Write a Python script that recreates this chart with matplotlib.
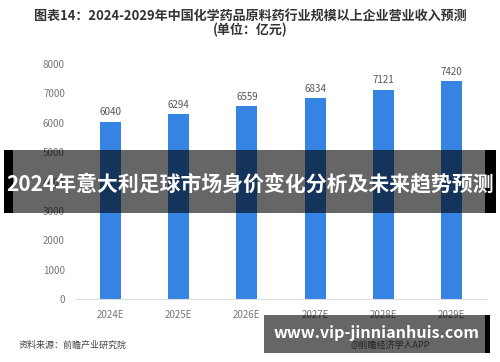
import matplotlib
matplotlib.use("Agg")
import matplotlib.pyplot as plt
from matplotlib.patches import Rectangle

plt.rcParams['font.family'] = ['Noto Sans CJK SC', 'DejaVu Sans']

categories = ["2024E", "2025E", "2026E", "2027E", "2028E", "2029E"]
values = [6040, 6294, 6559, 6834, 7121, 7420]
yticks = [0, 1000, 2000, 3000, 4000, 5000, 6000, 7000, 8000]

title = "图表14：2024-2029年中国化学药品原料药行业规模以上企业营业收入预测"
subtitle = "(单位：亿元)"
source = "资料来源：前瞻产业研究院"
banner = "2024年意大利足球市场身价变化分析及未来趋势预测"
url = "www.vip-jinnianhuis.com"
app = "@前瞻经济学人APP"

fig = plt.figure(figsize=(5, 3.62), dpi=100)
ax = fig.add_axes([0.152, 0.174, 0.82, 0.649])

x = list(range(len(categories)))
bars = ax.bar(x, values, width=0.31, color="#3584E4", zorder=2)
for xi, v in zip(x, values):
    ax.text(xi, v + 150, str(v), ha="center", va="bottom", fontsize=7, color="#555555")

ax.set_xlim(-0.5, len(categories) - 0.5)
ax.set_ylim(0, 8000)
ax.set_yticks(yticks)
ax.set_yticklabels([str(t) for t in yticks], fontsize=7, color="#777777")
ax.set_xticks(x)
ax.set_xticklabels(categories, fontsize=7, color="#777777")
ax.tick_params(axis="both", length=0, pad=8)
for s in ["top", "right", "left"]:
    ax.spines[s].set_visible(False)
ax.spines["bottom"].set_color("#dddddd")
ax.spines["bottom"].set_linewidth(0.8)

fig.text(0.5, 0.955, title, ha="center", va="center", fontsize=9.4, fontweight="bold", color="#333333")
fig.text(0.5, 0.918, subtitle, ha="center", va="center", fontsize=9.4, fontweight="bold", color="#333333")
fig.text(0.038, 0.047, source, ha="left", va="center", fontsize=6.5, color="#444444")

# overlay banner in the middle
fig.patches.append(Rectangle((0.008, 1 - 213 / 362), 0.984, 63 / 362, transform=fig.transFigure,
                             facecolor="black", alpha=0.6, zorder=5))
fig.patches.append(Rectangle((0.008, 1 - 213 / 362), 0.018, 63 / 362, transform=fig.transFigure,
                             facecolor="black", zorder=5))
fig.patches.append(Rectangle((0.970, 1 - 213 / 362), 0.022, 63 / 362, transform=fig.transFigure,
                             facecolor="black", zorder=5))
fig.text(0.5, 1 - 184 / 362, banner, ha="center", va="center", fontsize=15, fontweight="bold",
         color="white", zorder=6)

# bottom url banner
fig.text(0.78, 1 - 345 / 362, app, ha="center", va="center", fontsize=6.5, color="#555555", zorder=4)
fig.patches.append(Rectangle((0.528, 1 - 353 / 362), 0.452, 38 / 362, transform=fig.transFigure,
                             facecolor="black", alpha=0.6, zorder=5))
fig.patches.append(Rectangle((0.970, 1 - 353 / 362), 0.010, 38 / 362, transform=fig.transFigure,
                             facecolor="black", zorder=5))
fig.text(0.753, 1 - 333 / 362, url, ha="center", va="center", fontsize=11.6, fontweight="bold",
         color="white", zorder=6)

fig.savefig("out.png", dpi=100)
